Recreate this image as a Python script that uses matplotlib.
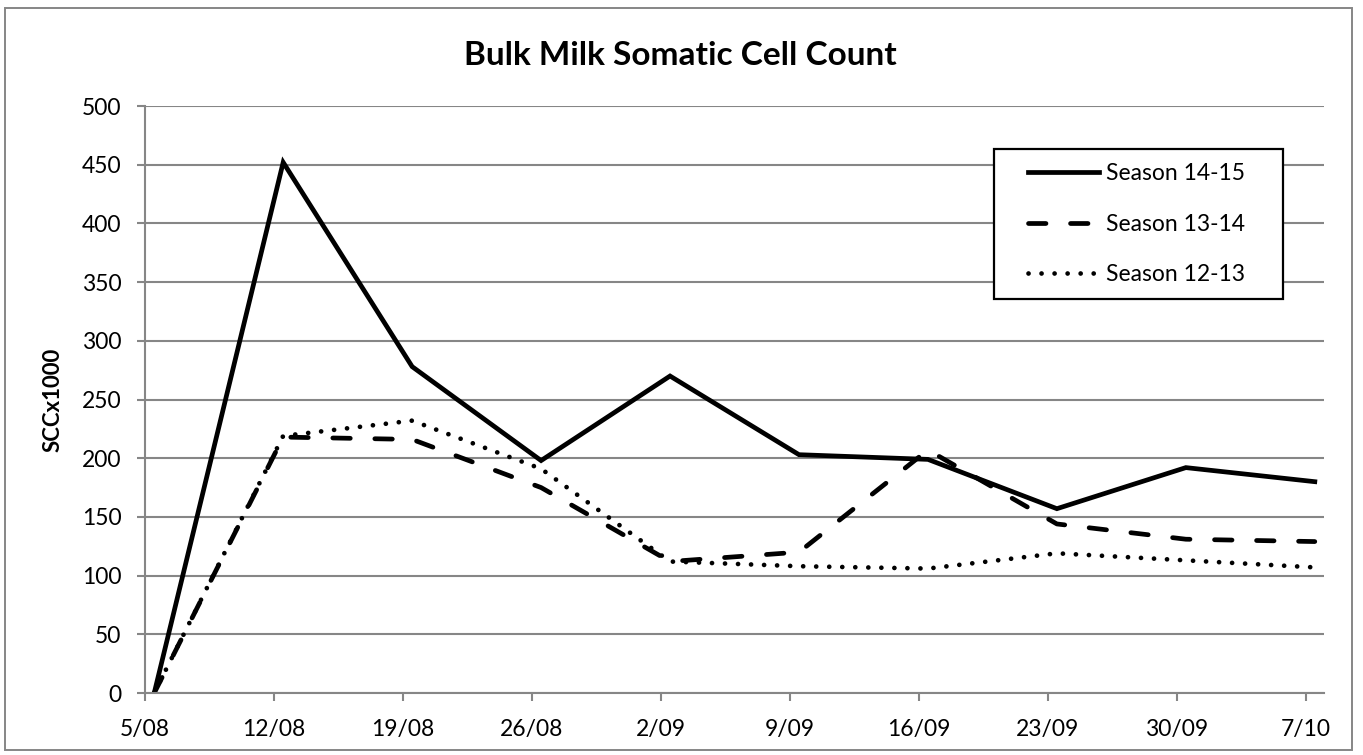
import matplotlib
matplotlib.use("Agg")
import matplotlib.pyplot as plt
from matplotlib.patches import Rectangle

plt.rcParams['font.family'] = ['Lato', 'DejaVu Sans']

# weekly sampling dates (days after 5/08)
days = [0, 7, 14, 21, 28, 35, 42, 49, 56, 63]
date_labels = ['5/08', '12/08', '19/08', '26/08', '2/09', '9/09', '16/09', '23/09', '30/09', '7/10']

season_14_15 = [0, 452, 278, 198, 270, 203, 199, 157, 192, 180]
season_13_14 = [0, 218, 216, 175, 112, 120, 207, 144, 131, 129]
season_12_13 = [0, 219, 232, 191, 112, 108, 106, 119, 113, 107]

fig = plt.figure(figsize=(13.63, 7.55), dpi=100)
ax = fig.add_axes([0.1064, 0.0821, 0.8650, 0.7775])

# Excel-style date axis: points sit in the middle of the day
x = [d + 0.5 for d in days]
lw = 3.4
ax.plot(x, season_14_15, color='black', lw=lw, solid_joinstyle='miter', label='Season 14-15')
ax.plot(x, season_13_14, color='black', lw=lw, dashes=(3.7, 5.2), dash_capstyle='round',
        label='Season 13-14')
ax.plot(x, season_12_13, color='black', lw=lw, dashes=(0.01, 2.75), dash_capstyle='round',
        label='Season 12-13')

ax.set_xlim(0, 64)
ax.set_ylim(0, 500)
ax.set_xticks(days)
ax.set_xticklabels(date_labels)
ax.set_yticks(range(0, 501, 50))

grid_col = '#868686'
ax.grid(axis='y', color=grid_col, lw=1.5)
ax.set_axisbelow(True)
for s in ['top', 'right']:
    ax.spines[s].set_visible(False)
for s in ['left', 'bottom']:
    ax.spines[s].set_color(grid_col)
    ax.spines[s].set_linewidth(1.5)
ax.tick_params(axis='both', colors=grid_col, length=6, width=1.5, labelcolor='black',
               labelsize=16.5)
ax.tick_params(axis='x', pad=13)
ax.tick_params(axis='y', pad=11)

ax.set_ylabel('SCCx1000', fontsize=16, fontweight='bold')
ax.yaxis.set_label_coords(-0.069, 0.5)
fig.text(0.4995, 0.927, 'Bulk Milk Somatic Cell Count', ha='center', va='center',
         fontsize=24, fontweight='bold')

# legend box drawn separately (Excel pads it wider than tall)
fig.patches.append(Rectangle((0.7293, 0.6040), 0.2120, 0.1986, transform=fig.transFigure,
                             facecolor='white', edgecolor='black', lw=1.6, zorder=3))
handles, labels = ax.get_legend_handles_labels()
fig.legend(handles, labels, loc='upper left', bbox_to_anchor=(1028 / 1363, 1 - 163 / 755),
           fontsize=16.5, frameon=False, handlelength=3.1, handletextpad=0.3,
           labelspacing=1.29, borderpad=0, borderaxespad=0)

fig.patches.append(Rectangle((0.0037, 0.0066), 0.988, 0.983, transform=fig.transFigure,
                             fill=False, edgecolor=grid_col, lw=1.4))

fig.savefig('out.png', dpi=100)
